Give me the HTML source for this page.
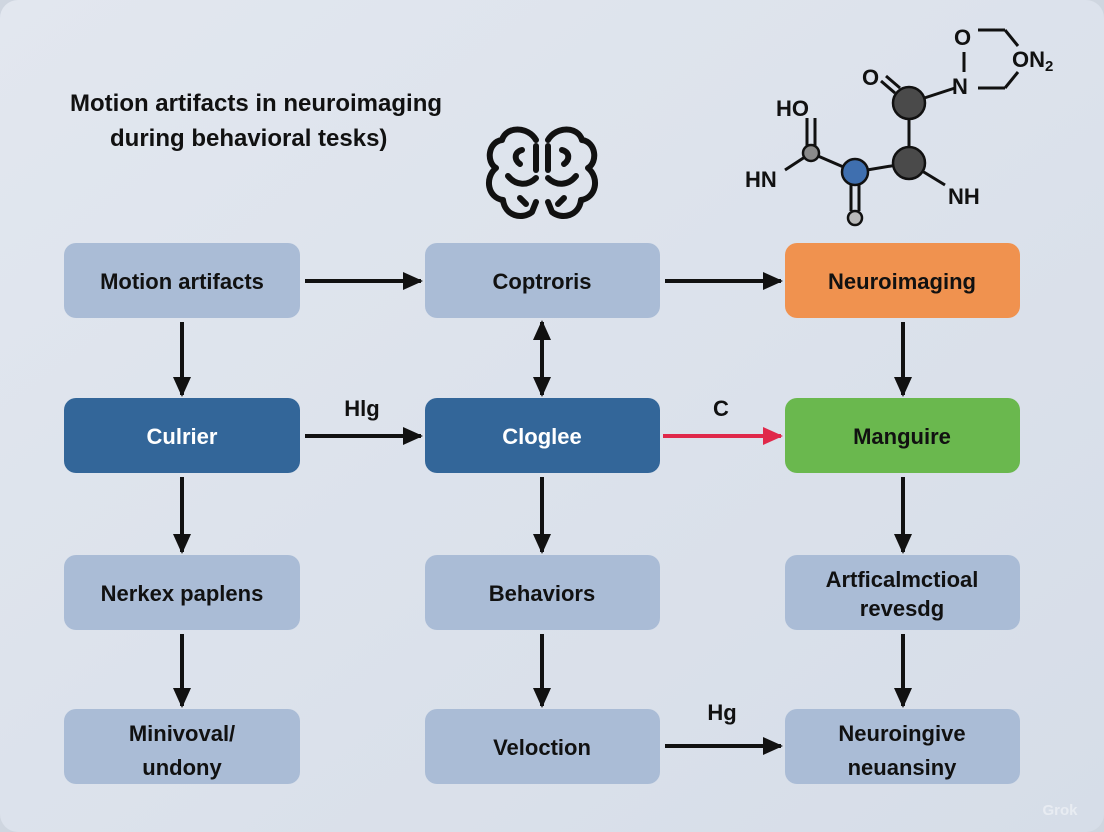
<!DOCTYPE html>
<html><head><meta charset="utf-8"><style>
html,body{margin:0;padding:0;width:1104px;height:832px;overflow:hidden;background:#cfd6e0;}
svg{display:block}
text{font-family:"Liberation Sans",sans-serif;font-weight:bold;}
</style></head><body>
<svg width="1104" height="832" viewBox="0 0 1104 832">
<defs>
<linearGradient id="bg" x1="0" y1="0" x2="1" y2="1">
<stop offset="0" stop-color="#e2e7ef"/><stop offset="1" stop-color="#d6dde8"/></linearGradient>
<marker id="ah" markerWidth="20" markerHeight="18" refX="9" refY="5" orient="auto" markerUnits="userSpaceOnUse" viewBox="0 0 10 10" preserveAspectRatio="none">
<path d="M0,0 L10,5 L0,10 Z" fill="#111"/></marker>
<marker id="ahb" markerWidth="20" markerHeight="18" refX="9" refY="5" orient="auto-start-reverse" markerUnits="userSpaceOnUse" viewBox="0 0 10 10" preserveAspectRatio="none">
<path d="M0,0 L10,5 L0,10 Z" fill="#111"/></marker>
<marker id="ahr" markerWidth="20" markerHeight="18" refX="9" refY="5" orient="auto" markerUnits="userSpaceOnUse" viewBox="0 0 10 10" preserveAspectRatio="none">
<path d="M0,0 L10,5 L0,10 Z" fill="#e0284a"/></marker>
</defs>
<rect x="0" y="0" width="1104" height="832" rx="18" fill="url(#bg)"/>

<text x="70" y="111" font-size="24" fill="#111">Motion artifacts in neuroimaging</text>
<text x="110" y="146" font-size="24" fill="#111">during behavioral tesks)</text>

<!-- brain -->
<g fill="none" stroke="#111" stroke-width="6" stroke-linecap="round" stroke-linejoin="round">
<path d="M536,140 C528,126 506,126 502,140 C488,142 486,162 496,168 C484,178 488,198 503,200 C505,216 522,220 532,212 L536,202"/>
<path d="M548,140 C556,126 578,126 582,140 C596,142 598,162 588,168 C600,178 596,198 581,200 C579,216 562,220 552,212 L548,202"/>
<path d="M522,150 C514,152 514,160 520,164"/>
<path d="M562,150 C570,152 570,160 564,164"/>
<path d="M508,176 C516,186 528,186 536,178"/>
<path d="M576,176 C568,186 556,186 548,178"/>
<path d="M536,146 L536,170"/><path d="M548,146 L548,170"/>
<path d="M520,198 L526,204"/><path d="M564,198 L558,204"/>
</g>

<!-- molecule -->
<g stroke="#111" stroke-width="3" fill="none">
<line x1="909" y1="103" x2="909" y2="163"/>
<line x1="909" y1="103" x2="955" y2="88"/>
<line x1="895" y1="93" x2="881" y2="81"/>
<line x1="900" y1="88" x2="886" y2="76"/>
<line x1="909" y1="163" x2="855" y2="172"/>
<line x1="909" y1="163" x2="945" y2="185"/>
<line x1="855" y1="172" x2="811" y2="153"/>
<line x1="851" y1="180" x2="851" y2="211"/>
<line x1="859" y1="180" x2="859" y2="211"/>
<line x1="807" y1="146" x2="807" y2="118"/>
<line x1="815" y1="146" x2="815" y2="118"/>
<line x1="811" y1="153" x2="785" y2="170"/>
<line x1="964" y1="52" x2="964" y2="72"/>
<line x1="978" y1="30" x2="1005" y2="30"/>
<line x1="1005" y1="30" x2="1018" y2="46"/>
<line x1="978" y1="88" x2="1005" y2="88"/>
<line x1="1005" y1="88" x2="1018" y2="72"/>
</g>
<circle cx="909" cy="103" r="16" fill="#4a4a4a" stroke="#111" stroke-width="2.5"/>
<circle cx="909" cy="163" r="16" fill="#4a4a4a" stroke="#111" stroke-width="2.5"/>
<circle cx="855" cy="172" r="13" fill="#3f6faf" stroke="#111" stroke-width="2.5"/>
<circle cx="811" cy="153" r="8" fill="#8a8a8a" stroke="#111" stroke-width="2.5"/>
<circle cx="855" cy="218" r="7" fill="#b9b9b9" stroke="#111" stroke-width="2.5"/>
<g font-size="22" fill="#111">
<text x="776" y="116">HO</text>
<text x="745" y="187">HN</text>
<text x="948" y="204">NH</text>
<text x="862" y="85">O</text>
<text x="952" y="94">N</text>
<text x="954" y="45">O</text>
<text x="1012" y="67">ON<tspan font-size="15" dy="4">2</tspan></text>
</g>

<!-- boxes -->
<g>
<rect x="64" y="243" width="236" height="75" rx="12" fill="#aabcd6"/>
<rect x="425" y="243" width="235" height="75" rx="12" fill="#aabcd6"/>
<rect x="785" y="243" width="235" height="75" rx="12" fill="#f0924f"/>
<rect x="64" y="398" width="236" height="75" rx="12" fill="#336699"/>
<rect x="425" y="398" width="235" height="75" rx="12" fill="#336699"/>
<rect x="785" y="398" width="235" height="75" rx="12" fill="#6ab84e"/>
<rect x="64" y="555" width="236" height="75" rx="12" fill="#aabcd6"/>
<rect x="425" y="555" width="235" height="75" rx="12" fill="#aabcd6"/>
<rect x="785" y="555" width="235" height="75" rx="12" fill="#aabcd6"/>
<rect x="64" y="709" width="236" height="75" rx="12" fill="#aabcd6"/>
<rect x="425" y="709" width="235" height="75" rx="12" fill="#aabcd6"/>
<rect x="785" y="709" width="235" height="75" rx="12" fill="#aabcd6"/>
</g>
<g font-size="22" text-anchor="middle" fill="#111">
<text x="182" y="289">Motion artifacts</text>
<text x="542" y="289">Coptroris</text>
<text x="902" y="289">Neuroimaging</text>
<text x="182" y="444" fill="#fff">Culrier</text>
<text x="542" y="444" fill="#fff">Cloglee</text>
<text x="902" y="444">Manguire</text>
<text x="182" y="601">Nerkex paplens</text>
<text x="542" y="601">Behaviors</text>
<text x="902" y="587">Artficalmctioal</text>
<text x="902" y="616">revesdg</text>
<text x="182" y="741">Minivoval/</text>
<text x="182" y="775">undony</text>
<text x="542" y="755">Veloction</text>
<text x="902" y="741">Neuroingive</text>
<text x="902" y="775">neuansiny</text>
</g>

<!-- arrows -->
<g stroke="#111" stroke-width="4" fill="none">
<line x1="305" y1="281" x2="421" y2="281" marker-end="url(#ah)"/>
<line x1="665" y1="281" x2="781" y2="281" marker-end="url(#ah)"/>
<line x1="305" y1="436" x2="421" y2="436" marker-end="url(#ah)"/>
<line x1="665" y1="746" x2="781" y2="746" marker-end="url(#ah)"/>
<line x1="182" y1="322" x2="182" y2="395" marker-end="url(#ah)"/>
<line x1="182" y1="477" x2="182" y2="552" marker-end="url(#ah)"/>
<line x1="182" y1="634" x2="182" y2="706" marker-end="url(#ah)"/>
<line x1="542" y1="322" x2="542" y2="395" marker-start="url(#ahb)" marker-end="url(#ahb)"/>
<line x1="542" y1="477" x2="542" y2="552" marker-end="url(#ah)"/>
<line x1="542" y1="634" x2="542" y2="706" marker-end="url(#ah)"/>
<line x1="903" y1="322" x2="903" y2="395" marker-end="url(#ah)"/>
<line x1="903" y1="477" x2="903" y2="552" marker-end="url(#ah)"/>
<line x1="903" y1="634" x2="903" y2="706" marker-end="url(#ah)"/>
</g>
<line x1="663" y1="436" x2="781" y2="436" stroke="#e0284a" stroke-width="4" marker-end="url(#ahr)"/>
<g font-size="22" fill="#111" text-anchor="middle">
<text x="362" y="416">Hlg</text>
<text x="721" y="416">C</text>
<text x="722" y="720">Hg</text>
</g>
<text x="1060" y="815" font-size="15" fill="#e8ecf2" font-weight="normal" text-anchor="middle">Grok</text>
</svg>
</body></html>
